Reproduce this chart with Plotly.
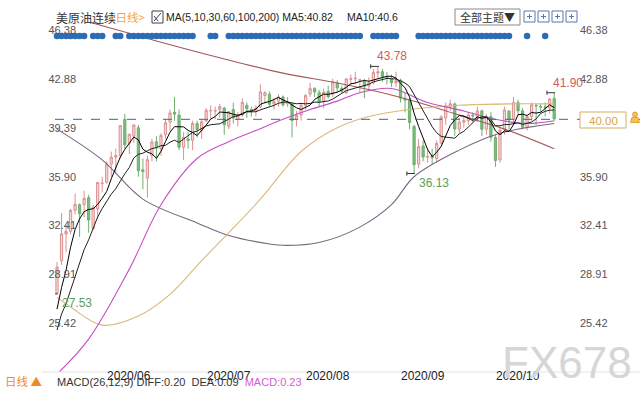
import plotly.graph_objects as go

# ---------------- data ----------------
dates = ["2020-05-15","2020-05-18","2020-05-19","2020-05-20","2020-05-21","2020-05-22","2020-05-26","2020-05-27","2020-05-28","2020-05-29",
         "2020-06-01","2020-06-02","2020-06-03","2020-06-04","2020-06-05","2020-06-08","2020-06-09","2020-06-10","2020-06-11","2020-06-12",
         "2020-06-15","2020-06-16","2020-06-17","2020-06-18","2020-06-19","2020-06-22","2020-06-23","2020-06-24","2020-06-25","2020-06-26",
         "2020-06-29","2020-06-30","2020-07-01","2020-07-02","2020-07-06","2020-07-07","2020-07-08","2020-07-09","2020-07-10","2020-07-13",
         "2020-07-14","2020-07-15","2020-07-16","2020-07-17","2020-07-20","2020-07-21","2020-07-22","2020-07-23","2020-07-24","2020-07-27",
         "2020-07-28","2020-07-29","2020-07-30","2020-07-31","2020-08-03","2020-08-04","2020-08-05","2020-08-06","2020-08-07","2020-08-10",
         "2020-08-11","2020-08-12","2020-08-13","2020-08-14","2020-08-17","2020-08-18","2020-08-19","2020-08-20","2020-08-21","2020-08-24",
         "2020-08-25","2020-08-26","2020-08-27","2020-08-28","2020-08-31","2020-09-01","2020-09-02","2020-09-03","2020-09-04","2020-09-08",
         "2020-09-09","2020-09-10","2020-09-11","2020-09-14","2020-09-15","2020-09-16","2020-09-17","2020-09-18","2020-09-21","2020-09-22",
         "2020-09-23","2020-09-24","2020-09-25","2020-09-28","2020-09-29","2020-09-30","2020-10-01","2020-10-02","2020-10-05","2020-10-06",
         "2020-10-07","2020-10-08","2020-10-09","2020-10-12","2020-10-13","2020-10-14","2020-10-15","2020-10-16","2020-10-19","2020-10-20",
         "2020-10-21"]

opens = [27.60,29.90,31.80,32.00,33.50,33.90,33.90,34.40,32.20,33.60,
         35.40,35.50,36.80,37.30,37.40,40.00,38.30,38.80,39.40,36.40,
         35.80,37.40,38.40,37.90,38.90,39.80,40.50,40.30,38.00,38.60,
         38.50,39.70,39.20,39.90,40.60,40.60,40.70,40.80,39.50,40.70,
         40.00,40.30,41.00,40.70,40.60,40.90,41.70,41.80,41.10,41.30,
         41.60,41.10,41.10,40.00,40.30,41.00,41.80,42.20,41.90,41.30,
         42.00,41.80,42.60,42.20,41.90,42.85,42.90,42.80,42.70,42.40,
         42.60,43.30,43.40,43.00,42.90,42.60,42.80,41.50,41.40,39.50,
         36.80,38.10,37.30,37.40,37.20,38.30,40.10,40.90,41.10,39.30,
         39.80,39.90,40.30,40.20,40.60,39.30,40.20,38.70,37.10,39.30,
         40.60,40.00,41.20,40.60,39.40,40.20,41.00,40.90,40.90,40.80,
         41.50]
highs = [29.80,33.30,32.50,33.60,34.70,34.00,34.90,34.60,33.90,35.50,
         35.90,37.00,37.70,37.90,39.60,40.40,38.90,39.60,39.60,37.20,
         37.40,38.60,38.80,39.00,40.00,40.70,41.60,40.70,39.10,39.10,
         39.90,39.90,40.00,40.80,41.00,40.90,41.10,40.90,40.60,41.20,
         40.50,41.50,41.20,40.90,41.00,42.50,42.00,42.00,41.50,41.80,
         41.70,41.60,41.20,40.60,41.20,41.80,42.60,42.30,42.10,42.20,
         42.40,42.90,42.80,42.40,42.90,43.20,43.40,42.90,42.90,43.00,
         43.60,43.78,43.60,43.40,43.20,43.40,42.90,41.90,41.50,39.60,
         38.60,38.50,37.90,37.90,38.50,40.30,41.20,41.40,41.20,40.10,
         40.30,40.50,40.50,40.90,40.70,40.40,40.50,38.90,39.50,40.90,
         40.60,41.60,41.40,40.80,40.30,41.20,41.10,41.10,41.20,41.50,
         41.90]
lows = [27.53,29.60,30.50,31.80,33.20,31.60,33.00,31.90,32.10,32.90,
        34.80,35.40,35.90,36.10,37.20,37.90,37.50,38.30,35.90,35.00,
        34.40,37.00,37.00,37.40,38.60,39.20,39.90,37.80,37.10,37.90,
        37.80,38.70,38.60,39.80,40.00,40.00,40.10,38.90,39.30,39.70,
        39.50,40.20,40.10,40.20,40.20,40.80,41.10,40.90,40.70,40.90,
        40.90,40.90,38.70,39.50,39.90,40.70,41.60,41.60,40.90,40.80,
        41.50,41.60,41.90,41.80,41.80,42.40,42.50,41.90,41.50,42.10,
        42.50,42.90,42.70,42.50,42.30,42.30,41.20,40.50,39.30,36.13,
        36.50,37.00,36.90,36.80,36.90,38.20,39.60,40.60,38.80,39.00,
        39.40,39.60,39.80,39.80,38.80,38.90,38.40,36.60,36.90,38.90,
        39.30,39.60,40.30,39.30,39.20,39.90,39.60,40.50,40.20,40.40,
        39.90]
closes = [29.43,31.82,32.00,33.49,33.92,33.25,34.35,32.81,33.71,35.49,
          35.44,36.81,37.29,37.41,39.55,38.19,38.94,39.60,36.34,36.26,
          37.12,38.38,37.96,38.84,39.75,40.46,40.37,38.01,38.72,38.49,
          39.70,39.27,39.82,40.65,40.63,40.62,40.90,39.62,40.55,40.10,
          40.29,41.20,40.75,40.59,40.81,41.96,41.90,41.07,41.29,41.60,
          41.04,41.27,39.92,40.27,41.01,41.70,42.19,41.95,41.22,41.94,
          41.61,42.67,42.24,42.01,42.89,42.89,42.93,42.82,42.34,42.62,
          43.35,43.39,43.04,42.97,42.61,42.76,41.51,41.37,39.77,36.76,
          38.05,37.30,37.33,37.26,38.28,40.16,40.97,41.11,39.31,39.80,
          39.93,40.31,40.25,40.60,39.29,40.22,38.72,37.05,39.22,40.67,
          39.95,41.19,40.60,39.43,40.20,41.04,40.96,40.88,40.83,41.46,
          40.03]
# closes of the nine sessions before the first bar (for MA5 / MA10)
prior_closes = [20.39,24.56,23.99,23.55,24.74,24.14,25.78,25.29,27.56]

# long moving averages
ma30_dates = ["2020-05-15","2020-05-27","2020-06-09","2020-06-18","2020-06-30","2020-07-10","2020-07-20","2020-07-28",
              "2020-08-05","2020-08-13","2020-08-20","2020-08-31","2020-09-11","2020-09-23","2020-10-02","2020-10-13","2020-10-21"]
ma30_vals = [21.8,24.3,29.3,33.9,37.2,38.4,39.2,40.0,40.7,41.3,41.9,42.2,41.2,40.6,40.0,39.7,39.9]
ma60_dates = ["2020-05-15","2020-05-20","2020-06-01","2020-06-11","2020-06-22","2020-07-01","2020-07-10","2020-07-21",
              "2020-08-03","2020-08-13","2020-08-24","2020-09-04","2020-09-22","2020-10-07","2020-10-21"]
ma60_vals = [27.3,26.6,25.3,25.95,27.5,29.9,31.9,34.3,37.7,39.4,40.2,40.7,41.0,41.1,41.1]
ma100_dates = ["2020-05-15","2020-06-01","2020-06-12","2020-06-30","2020-07-10","2020-07-23","2020-07-28","2020-08-07",
               "2020-08-20","2020-08-31","2020-09-08","2020-09-22","2020-10-05","2020-10-21"]
ma100_vals = [39.3,37.1,34.3,32.6,31.7,31.1,31.0,31.2,32.3,33.9,35.9,37.8,39.0,39.7]
ma200_dates = ["2020-05-15","2020-06-02","2020-06-17","2020-07-08","2020-07-28","2020-08-13","2020-08-27","2020-09-09",
               "2020-09-22","2020-10-06","2020-10-21"]
ma200_vals = [47.6,46.6,45.6,44.4,43.3,42.6,41.9,41.2,40.3,39.3,37.9]

# sessions carrying a news marker (blue dots)
event_bars = [0,1,2,3,4,5,6,8,9,10,13,14,16,17,18,19,20,21,22,23,24,25,26,27,28,29,30,34,35,
              38,39,40,41,42,43,44,45,46,47,48,49,50,51,52,53,54,55,56,57,58,59,60,61,62,63,64,65,66,67,
              70,71,72,73,74,75,80,81,82,83,84,85,86,87,88,89,90,91,92,93,94,95,96,97,98,99,100,104,108]

month_labels = ["2020/06", "2020/07", "2020/08", "2020/09", "2020/10"]
month_first = ["2020-06-01", "2020-07-01", "2020-08-03", "2020-09-01", "2020-10-01"]
y_ticks = [46.38, 42.88, 39.39, 35.90, 32.41, 28.91, 25.42]
marks = [("2020-08-26", 43.78, "high"), ("2020-09-08", 36.13, "low"),
         ("2020-05-15", 27.53, "low"), ("2020-10-21", 41.90, "high")]
ref_price = 40.00

# ---------------- helpers ----------------
pos = {d: i for i, d in enumerate(dates)}
xi = list(range(len(dates)))
all_closes = prior_closes + closes
def rolling(n):
    off = len(prior_closes)
    return [sum(all_closes[off + i - n + 1: off + i + 1]) / n for i in range(len(closes))]
ma5 = rolling(5)
ma10 = rolling(10)

L, R, T, B = 55, 575, 22, 372
def fx(x): return (x - L) / (R - L)
def fy(y): return (B - y) / (B - T)
PXU = 14.0
y_top = y_ticks[0] + (30 - T) / PXU
y_bot = y_ticks[0] - (B - 30) / PXU
x_lo = -2 / 4.52
x_hi = x_lo + (R - L) / 4.52

NUM = "Liberation Sans, Arial, sans-serif"
CJK = "Noto Sans CJK SC, sans-serif"

fig = go.Figure()

# long MAs
for dts, vals, col in [(ma200_dates, ma200_vals, "#a3585c"), (ma100_dates, ma100_vals, "#75687f"),
                       (ma60_dates, ma60_vals, "#dcb878"), (ma30_dates, ma30_vals, "#c64ec6")]:
    fig.add_trace(go.Scatter(x=[pos[d] for d in dts], y=vals, mode="lines",
                             line=dict(color=col, width=1.1, shape="spline", smoothing=1.0),
                             hoverinfo="skip", showlegend=False))

fig.add_trace(go.Candlestick(x=xi, open=opens, high=highs, low=lows, close=closes,
                             increasing=dict(line=dict(color="#dc9090", width=1), fillcolor="#f5d8d8"),
                             decreasing=dict(line=dict(color="#6fb06f", width=1), fillcolor="#7cbc7c"),
                             whiskerwidth=0, showlegend=False, hoverinfo="skip"))

fig.add_trace(go.Scatter(x=xi, y=ma10, mode="lines", line=dict(color="#222222", width=1),
                         hoverinfo="skip", showlegend=False))
fig.add_trace(go.Scatter(x=xi, y=ma5, mode="lines", line=dict(color="#000000", width=1),
                         hoverinfo="skip", showlegend=False))

# event dots
dot_y = y_ticks[0] - 6 / PXU
fig.add_trace(go.Scatter(x=event_bars, y=[dot_y] * len(event_bars), mode="markers",
                         marker=dict(color="#2d6cb4", size=6.5, line=dict(width=0)),
                         hoverinfo="skip", showlegend=False, cliponaxis=False))

# right axis proxy
fig.add_trace(go.Scatter(x=[0], y=[ref_price], yaxis="y2", mode="markers",
                         marker=dict(opacity=0), hoverinfo="skip", showlegend=False))

shapes = []
annotations = []

def text(x, y, s, size, color, family=NUM, xanchor="left"):
    annotations.append(dict(x=fx(x), y=fy(y), xref="paper", yref="paper", text=s, showarrow=False,
                            xanchor=xanchor, yanchor="middle",
                            font=dict(family=family, size=size, color=color)))

# reference dashed line
shapes.append(dict(type="line", xref="paper", yref="y", x0=0, x1=fx(640), y0=ref_price, y1=ref_price,
                   line=dict(color="#3d6a88", width=1, dash="dash")))
shapes.append(dict(type="rect", xref="paper", yref="paper", x0=fx(580), x1=fx(626), y0=fy(128), y1=fy(112),
                   line=dict(color="#d8ad5c", width=1), fillcolor="white"))
text(603, 120.5, "%.2f" % ref_price, 11.5, "#d4a650", xanchor="center")
# little person icon
shapes.append(dict(type="circle", xref="paper", yref="paper", x0=fx(632.5), x1=fx(637.5), y0=fy(117), y1=fy(112),
                   line=dict(color="#e8a23a", width=1), fillcolor="#f4c060"))
shapes.append(dict(type="path", xref="paper", yref="paper",
                   path="M %f %f L %f %f L %f %f L %f %f Z" % (fx(630.5), fy(122.5), fx(639.5), fy(122.5), fx(638), fy(117.5), fx(632), fy(117.5)),
                   line=dict(color="#e8a23a", width=1), fillcolor="#f4c060"))

# high / low marks
for d, v, kind in marks:
    i = pos[d]
    col = "#d25c5c" if kind == "high" else "#5c9e5c"
    shapes.append(dict(type="line", xref="x", yref="y", x0=i - 1.6, x1=i + 0.2, y0=v, y1=v,
                       line=dict(color="#333333", width=1)))
    shapes.append(dict(type="line", xref="x", yref="y", x0=i - 1.6, x1=i - 1.6, y0=v - 0.15, y1=v + 0.15,
                       line=dict(color="#333333", width=1)))
    if kind == "high":
        annotations.append(dict(x=i, y=v, xref="x", yref="y", text="%.2f" % v, showarrow=False,
                                xanchor="left", yanchor="bottom", xshift=-3, yshift=1,
                                font=dict(family=NUM, size=12, color=col)))
    else:
        annotations.append(dict(x=i, y=v, xref="x", yref="y", text="%.2f" % v, showarrow=False,
                                xanchor="left", yanchor="top", xshift=3, yshift=0,
                                font=dict(family=NUM, size=12, color=col)))

# month labels
for lab, d in zip(month_labels, month_first):
    annotations.append(dict(x=pos[d], y=fy(376), xref="x", yref="paper", text=lab, showarrow=False,
                            xanchor="left", yanchor="middle", xshift=3,
                            font=dict(family=NUM, size=12, color="#222222")))

# bottom line texts
shapes.append(dict(type="line", xref="paper", yref="paper", x0=fx(42), x1=fx(640), y0=0, y1=0,
                   line=dict(color="#e4e4e4", width=1)))
text(3, 381, "日线 ▲", 11.5, "#ee8c1e", family=CJK)
text(55, 382, "MACD(26,12,9) DIFF:0.20  DEA:0.09  <span style='color:#d35ed3'>MACD:0.23</span>", 11, "#333333")
# watermark
text(567, 362, "FX678", 44, "#d6d6d6", xanchor="center")

# header
text(54, 17, "美原油连续", 12, "#333333", family=CJK)
text(107, 17, "&lt;日线&gt;", 11.5, "#f2a445", family=CJK)
shapes.append(dict(type="rect", xref="paper", yref="paper", x0=fx(152), x1=fx(163), y0=fy(23), y1=fy(11),
                   line=dict(color="#3a4050", width=1), fillcolor="white"))
shapes.append(dict(type="path", xref="paper", yref="paper",
                   path="M %f %f L %f %f M %f %f L %f %f" % (fx(154), fy(21), fx(161), fy(13), fx(154), fy(16), fx(158), fy(21)),
                   line=dict(color="#3a4050", width=1)))
text(164, 17, "MA(5,10,30,60,100,200) MA5:40.82", 10.5, "#222222")
text(345, 17, "MA10:40.6", 10.5, "#222222")
shapes.append(dict(type="rect", xref="paper", yref="paper", x0=fx(455), x1=fx(520), y0=fy(25), y1=fy(9),
                   line=dict(color="#8a8a8a", width=1), fillcolor="white"))
text(487.5, 17, "全部主题▼", 11, "#333333", family=CJK, xanchor="center")
for k in range(4):
    x0 = 524 + 14 * k
    shapes.append(dict(type="rect", xref="paper", yref="paper", x0=fx(x0), x1=fx(x0 + 11), y0=fy(22), y1=fy(11),
                       line=dict(color="#5b78a8", width=1), fillcolor="white"))
    shapes.append(dict(type="path", xref="paper", yref="paper",
                       path="M %f %f L %f %f M %f %f L %f %f" % (fx(x0 + 3), fy(16.5), fx(x0 + 8), fy(16.5),
                                                                 fx(x0 + 5.5), fy(14), fx(x0 + 5.5), fy(19)),
                       line=dict(color="#5b78a8", width=1)))

tick_text = ["%.2f" % v for v in y_ticks]
right_ticks = [v for v in y_ticks if abs(v - ref_price) > 1]
axis_font = dict(family=NUM, size=11, color="#555555")
fig.update_layout(
    width=640, height=400, margin=dict(l=L, r=640 - R, t=T, b=400 - B),
    paper_bgcolor="white", plot_bgcolor="white",
    xaxis=dict(range=[x_lo, x_hi], showgrid=False, zeroline=False, showticklabels=False, ticks="",
               rangeslider=dict(visible=False), showline=False),
    yaxis=dict(range=[y_bot, y_top], tickvals=y_ticks, ticktext=tick_text, showgrid=False, zeroline=False,
               tickfont=axis_font, ticks="", side="left", showline=False, ticklabelstandoff=-22),
    yaxis2=dict(range=[y_bot, y_top], tickvals=right_ticks, ticktext=["%.2f" % v for v in right_ticks],
                showgrid=False, zeroline=False,
                tickfont=axis_font, ticks="", side="right", overlaying="y", showline=False, ticklabelstandoff=4),
    shapes=shapes, annotations=annotations, hovermode=False, showlegend=False,
)

fig.write_html("out.html", config={"displayModeBar": False},
               post_script="document.body.style.margin='0';")
